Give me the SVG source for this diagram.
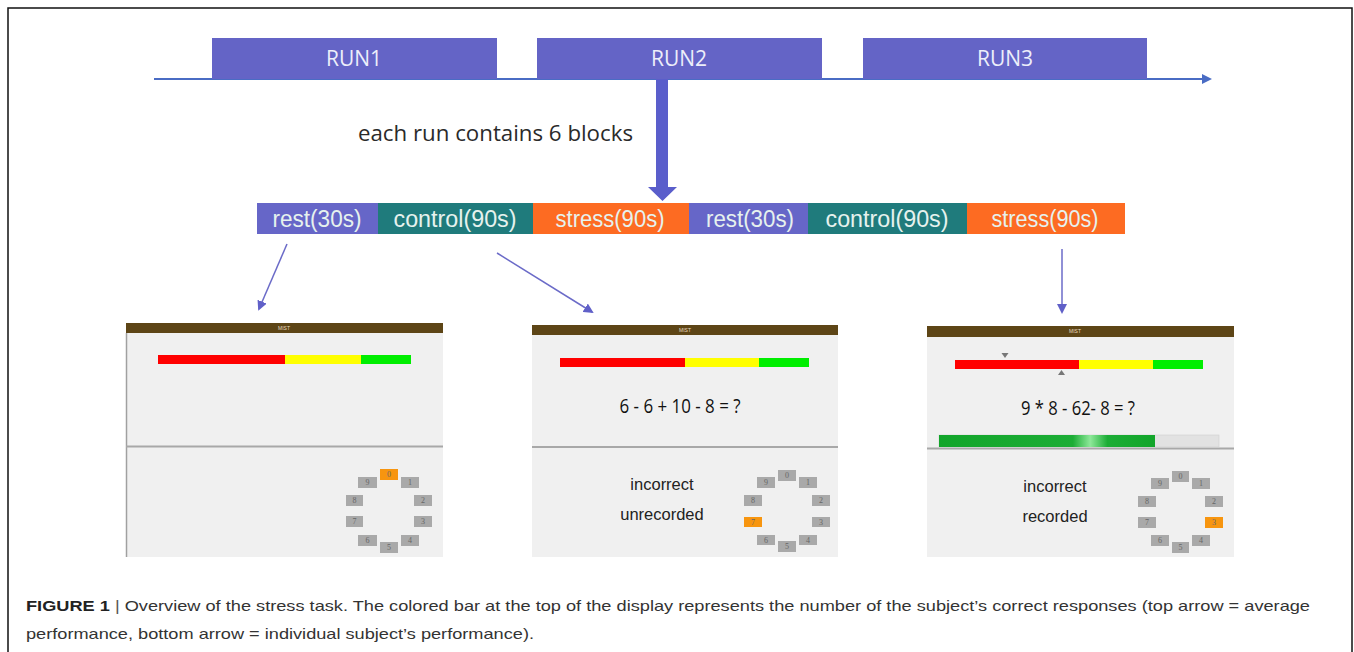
<svg xmlns="http://www.w3.org/2000/svg" width="1354" height="652" viewBox="0 0 1354 652">
<defs>
<style>
.run{fill:#6464c6}
.runt{font-family:"Open Sans","Liberation Sans",sans-serif;font-size:21px;fill:#eceefa;text-anchor:middle}
.blk{font-family:"Liberation Sans",sans-serif;font-size:23px;fill:#e6f2ee;text-anchor:middle}
.rest{fill:#6666c8}
.ctrl{fill:#1f7b7c}
.strs{fill:#fd6b22}
.scr{fill:#f0f0f0}
.hdr{fill:#5d4516}
.mist{font-family:"Liberation Sans",sans-serif;font-size:5px;fill:#e8dcc0;text-anchor:middle}
.div{stroke:#a8a8a8;stroke-width:2}
.key{fill:#a9a9a9}
.keyo{fill:#f7950f}
.kt{font-family:"Liberation Serif",serif;font-size:8px;fill:#666;text-anchor:middle}
.eq{font-family:"Open Sans","Liberation Sans",sans-serif;font-size:20px;fill:#111;text-anchor:middle}
.msg{font-family:"Liberation Sans",sans-serif;font-size:16.5px;fill:#222;text-anchor:middle}
.thin{stroke:#6b6bc8;stroke-width:1.5;fill:none}
.cap{font-family:"Liberation Sans",sans-serif;font-size:15px;fill:#333}
</style>
<marker id="ah" markerWidth="10" markerHeight="10" refX="8" refY="5" orient="auto" markerUnits="userSpaceOnUse">
<path d="M0,0 L10,5 L0,10 Z" fill="#6060c8"/>
</marker>
<marker id="ah2" markerWidth="10" markerHeight="10" refX="8" refY="5" orient="auto" markerUnits="userSpaceOnUse">
<path d="M0,0 L10,5 L0,10 Z" fill="#4a6cc4"/>
</marker>
<linearGradient id="prog" x1="939" y1="0" x2="1155" y2="0" gradientUnits="userSpaceOnUse">
<stop offset="0" stop-color="#12a52a"/>
<stop offset="0.62" stop-color="#1cad36"/>
<stop offset="0.7" stop-color="#8ee89a"/>
<stop offset="0.78" stop-color="#1cad36"/>
<stop offset="1" stop-color="#12a52a"/>
</linearGradient>
</defs>
<rect x="0" y="0" width="1354" height="652" fill="#fff"/>
<rect x="8" y="8" width="1344" height="660" fill="none" stroke="#111" stroke-width="1.5"/>

<g id="connectors">
<line x1="154" y1="79" x2="1210" y2="79" stroke="#4a6cc4" stroke-width="1.8" marker-end="url(#ah2)"/>
<path d="M656,79 L668,79 L668,187 L677,187 L662.5,201 L648,187 L656,187 Z" fill="#5a5ecb"/>
<line class="thin" x1="287" y1="244" x2="259" y2="309" marker-end="url(#ah)"/>
<line class="thin" x1="497" y1="253" x2="592" y2="312" marker-end="url(#ah)"/>
<line class="thin" x1="1062" y1="249" x2="1062" y2="312" marker-end="url(#ah)"/>
</g>

<g id="run1"><rect class="run" x="212" y="38" width="285" height="41"/><text class="runt" x="354" y="66">RUN1</text></g>
<g id="run2"><rect class="run" x="537" y="38" width="285" height="41"/><text class="runt" x="679" y="66">RUN2</text></g>
<g id="run3"><rect class="run" x="863" y="38" width="284" height="41"/><text class="runt" x="1005" y="66">RUN3</text></g>

<g id="label"><text x="358" y="141" font-family="Open Sans, Liberation Sans, sans-serif" font-size="21" fill="#2a2a2a" textLength="275" lengthAdjust="spacingAndGlyphs">each run contains 6 blocks</text></g>

<g id="blocks">
<g id="b1"><rect class="rest" x="257" y="203" width="121" height="31"/><text class="blk" x="317" y="227" textLength="89" lengthAdjust="spacingAndGlyphs">rest(30s)</text></g>
<g id="b2"><rect class="ctrl" x="378" y="203" width="155" height="31"/><text class="blk" x="455" y="227" textLength="123" lengthAdjust="spacingAndGlyphs">control(90s)</text></g>
<g id="b3"><rect class="strs" x="533" y="203" width="156" height="31"/><text class="blk" x="610" y="227" textLength="109" lengthAdjust="spacingAndGlyphs">stress(90s)</text></g>
<g id="b4"><rect class="rest" x="689" y="203" width="119" height="31"/><text class="blk" x="750" y="227" textLength="88" lengthAdjust="spacingAndGlyphs">rest(30s)</text></g>
<g id="b5"><rect class="ctrl" x="808" y="203" width="159" height="31"/><text class="blk" x="887" y="227" textLength="123" lengthAdjust="spacingAndGlyphs">control(90s)</text></g>
<g id="b6"><rect class="strs" x="967" y="203" width="158" height="31"/><text class="blk" x="1045" y="227" textLength="107" lengthAdjust="spacingAndGlyphs">stress(90s)</text></g>
</g>

<g id="screen1">
<rect class="scr" x="126" y="333" width="317" height="224"/>
<rect class="hdr" x="126" y="323" width="317" height="10"/>
<text class="mist" x="284" y="330">MIST</text>
<line x1="126.5" y1="333" x2="126.5" y2="557" stroke="#a0a0a0" stroke-width="1.5"/>
<line class="div" x1="126" y1="446.5" x2="443" y2="446.5"/>
<rect x="158" y="355" width="127" height="9" fill="#ff0000"/>
<rect x="285" y="355" width="76" height="9" fill="#ffff00"/>
<rect x="361" y="355" width="50" height="9" fill="#00ee00"/>
<rect class="keyo" x="380" y="469" width="18" height="11"/><text class="kt" x="389" y="477">0</text>
<rect class="key" x="358" y="477" width="19" height="11"/><text class="kt" x="367.5" y="485">9</text>
<rect class="key" x="401" y="477" width="18" height="11"/><text class="kt" x="410" y="485">1</text>
<rect class="key" x="346" y="495" width="17" height="11"/><text class="kt" x="354.5" y="503">8</text>
<rect class="key" x="414" y="495" width="18" height="11"/><text class="kt" x="423" y="503">2</text>
<rect class="key" x="346" y="516" width="17" height="11"/><text class="kt" x="354.5" y="524">7</text>
<rect class="key" x="414" y="516" width="18" height="11"/><text class="kt" x="423" y="524">3</text>
<rect class="key" x="358" y="535" width="19" height="11"/><text class="kt" x="367.5" y="543">6</text>
<rect class="key" x="401" y="535" width="18" height="11"/><text class="kt" x="410" y="543">4</text>
<rect class="key" x="380" y="542" width="18" height="11"/><text class="kt" x="389" y="550">5</text>
</g>

<g id="screen2">
<rect class="scr" x="532" y="335" width="306" height="222"/>
<rect class="hdr" x="532" y="325" width="306" height="10"/>
<text class="mist" x="685" y="332">MIST</text>
<line class="div" x1="532" y1="447" x2="838" y2="447"/>
<rect x="560" y="358" width="125" height="9" fill="#ff0000"/>
<rect x="685" y="358" width="74" height="9" fill="#ffff00"/>
<rect x="759" y="358" width="50" height="9" fill="#00ee00"/>
<text class="eq" x="680" y="413" textLength="121" lengthAdjust="spacingAndGlyphs">6 - 6 + 10 - 8 = ?</text>
<text class="msg" x="662" y="490">incorrect</text>
<text class="msg" x="662" y="520">unrecorded</text>
<rect class="key" x="778" y="470" width="18" height="11"/><text class="kt" x="787" y="478">0</text>
<rect class="key" x="757" y="477" width="18" height="11"/><text class="kt" x="766" y="485">9</text>
<rect class="key" x="799" y="477" width="18" height="11"/><text class="kt" x="808" y="485">1</text>
<rect class="key" x="744" y="495" width="18" height="11"/><text class="kt" x="753" y="503">8</text>
<rect class="key" x="812" y="495" width="18" height="11"/><text class="kt" x="821" y="503">2</text>
<rect class="keyo" x="744" y="517" width="18" height="10"/><text class="kt" x="753" y="525">7</text>
<rect class="key" x="812" y="517" width="18" height="10"/><text class="kt" x="821" y="525">3</text>
<rect class="key" x="757" y="535" width="18" height="10"/><text class="kt" x="766" y="543">6</text>
<rect class="key" x="799" y="535" width="18" height="10"/><text class="kt" x="808" y="543">4</text>
<rect class="key" x="778" y="541" width="18" height="11"/><text class="kt" x="787" y="549">5</text>
</g>

<g id="screen3">
<rect class="scr" x="927" y="337" width="307" height="220"/>
<rect class="hdr" x="927" y="326" width="307" height="11"/>
<text class="mist" x="1075" y="333">MIST</text>
<line class="div" x1="927" y1="448.5" x2="1234" y2="448.5"/>
<rect x="955" y="360" width="124" height="9" fill="#ff0000"/>
<rect x="1079" y="360" width="74" height="9" fill="#ffff00"/>
<rect x="1153" y="360" width="50" height="9" fill="#00ee00"/>
<path d="M1001.5,353 L1008.5,353 L1005,358 Z" fill="#777"/>
<path d="M1058,375 L1065,375 L1061.5,370 Z" fill="#777"/>
<text class="eq" x="1078" y="415" textLength="114" lengthAdjust="spacingAndGlyphs">9 * 8 - 62- 8 = ?</text>
<rect x="939" y="435" width="280" height="12" fill="#e2e2e2" stroke="#d0d0d0" stroke-width="0.6"/>
<rect x="939" y="435" width="216" height="12" fill="url(#prog)"/>
<text class="msg" x="1055" y="492">incorrect</text>
<text class="msg" x="1055" y="522">recorded</text>
<rect class="key" x="1172" y="471" width="17" height="11"/><text class="kt" x="1180.5" y="479">0</text>
<rect class="key" x="1151" y="478" width="18" height="11"/><text class="kt" x="1160" y="486">9</text>
<rect class="key" x="1192" y="478" width="18" height="11"/><text class="kt" x="1201" y="486">1</text>
<rect class="key" x="1138" y="496" width="18" height="11"/><text class="kt" x="1147" y="504">8</text>
<rect class="key" x="1205" y="496" width="18" height="11"/><text class="kt" x="1214" y="504">2</text>
<rect class="key" x="1138" y="517" width="18" height="11"/><text class="kt" x="1147" y="525">7</text>
<rect class="keyo" x="1205" y="517" width="18" height="11"/><text class="kt" x="1214" y="525">3</text>
<rect class="key" x="1151" y="535" width="18" height="11"/><text class="kt" x="1160" y="543">6</text>
<rect class="key" x="1192" y="535" width="18" height="11"/><text class="kt" x="1201" y="543">4</text>
<rect class="key" x="1172" y="542" width="17" height="11"/><text class="kt" x="1180.5" y="550">5</text>
</g>

<g id="caption">
<text class="cap" x="26" y="611" textLength="1284" lengthAdjust="spacingAndGlyphs"><tspan font-weight="bold" fill="#222">FIGURE 1</tspan> <tspan fill="#555">|</tspan> Overview of the stress task. The colored bar at the top of the display represents the number of the subject’s correct responses (top arrow = average</text>
<text class="cap" x="26" y="639" textLength="508" lengthAdjust="spacingAndGlyphs">performance, bottom arrow = individual subject’s performance).</text>
</g>
</svg>
